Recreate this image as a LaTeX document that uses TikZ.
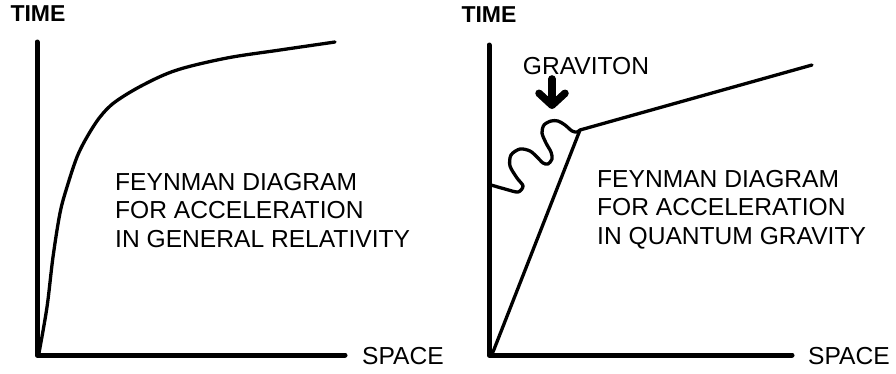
\documentclass[tikz,border=0pt]{standalone}
\usepackage{fontspec}
\setmainfont{Liberation Sans}
\usetikzlibrary{arrows.meta}

\begin{document}
\begin{tikzpicture}[x=1pt, y=-1pt,
  axis/.style={line width=5pt, line cap=round, line join=round},
  world/.style={line width=3.3pt, line join=round, line cap=round},
  lbl/.style={inner sep=0pt, font=\fontsize{24.6}{28.5}\selectfont},
  head/.style={inner sep=0pt, font=\fontsize{23}{26}\selectfont\bfseries}]
  \useasboundingbox (0,0) rectangle (896,373);

  % Left panel: general relativity
  \coordinate (lo) at (37,355);
  \draw[axis] (37,42) -- (lo) -- (345,355);
  \node[head] (ltime) at (38,14) {TIME};
  \node[lbl, anchor=west] (lspace) at (362,356) {SPACE};
  \draw[world] plot[smooth, tension=0.55] coordinates {(39,353) (47,307) (53,257) (60,213) (67,187)
    (77,157) (87,137) (100,117) (115,102) (143,85) (177,70) (227,58) (280,50) (335,42)};
  \node[lbl, anchor=north west, align=left] (ltext) at (115,173)
    {FEYNMAN DIAGRAM\\FOR ACCELERATION\\IN GENERAL RELATIVITY};

  % Right panel: quantum gravity
  \coordinate (ro) at (489,355);
  \coordinate (kink) at (580,130);
  \draw[axis] (489,45) -- (ro) -- (792,355);
  \node[head] (rtime) at (489,15) {TIME};
  \node[lbl, anchor=west] (rspace) at (808,356) {SPACE};
  \draw[world] (493,352) -- (kink) -- (812,65);
  % graviton
  \draw[world] plot[smooth, tension=0.5] coordinates {(491,185) (505,189) (518,192) (523,186) (517,178)
    (510,166) (511,155) (520,149) (530,151) (537,157) (543,163) (548,164) (552,159) (551,152)
    (546,143) (542,133) (544,125) (551,121) (558,121) (565,125) (572,131) (577,132) (kink)};
  \node[lbl] (grav) at (586,66) {GRAVITON};
  \coordinate (gtip) at (552,109);
  \draw[line width=7.5pt, line cap=round, -{Straight Barb[round, length=12pt, width=26pt]}]
    (grav.south -| gtip) ++(0,4) -- (gtip);
  \node[lbl, anchor=north west, align=left] (rtext) at (597,170)
    {FEYNMAN DIAGRAM\\FOR ACCELERATION\\IN QUANTUM GRAVITY};
\end{tikzpicture}
\end{document}
